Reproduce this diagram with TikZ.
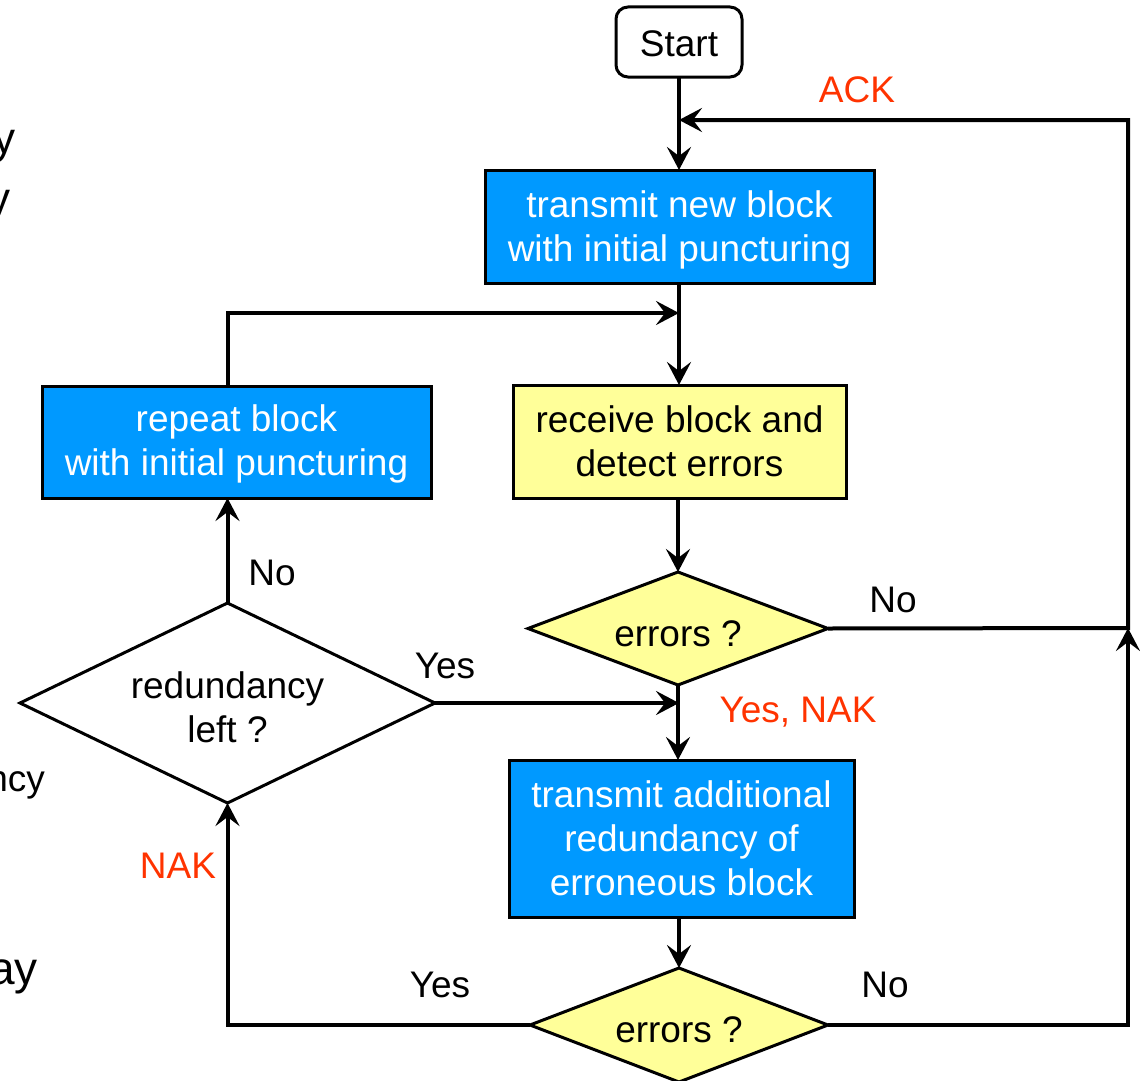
\documentclass[tikz,border=0pt]{standalone}
\usepackage{fontspec}
\setmainfont{Liberation Sans}
\usetikzlibrary{arrows.meta,shapes.geometric}
\definecolor{boxblue}{RGB}{0,153,255}
\definecolor{boxyellow}{RGB}{255,255,153}
\definecolor{sigred}{RGB}{255,51,0}
% lower a text inside its node without changing the node's size
\newcommand{\lowertext}[2]{\raisebox{-#1}[\height][\depth]{\begin{tabular}{@{}c@{}}#2\end{tabular}}}
\tikzset{
  every node/.style={font=\fontsize{37}{44}\selectfont, outer sep=0pt},
  flow/.style={line width=4pt, draw=black},
  arr/.style={flow, -{Stealth[length=23pt,width=24pt,inset=9pt]}},
  bluebox/.style={draw, line width=3pt, fill=boxblue, text=white, align=center, inner sep=0pt},
  yellowbox/.style={draw, line width=3pt, fill=boxyellow, align=center, inner sep=0pt},
  decision/.style={diamond, draw, line width=3pt, align=center, inner sep=0pt},
  startbox/.style={draw, line width=3pt, rounded corners=12pt, fill=white, inner sep=0pt},
  lbl/.style={inner sep=0pt},
  sig/.style={lbl, text=sigred},
  frag/.style={inner sep=0pt, anchor=base east}
}
\begin{document}
\begin{tikzpicture}[x=1pt,y=-1pt]
\useasboundingbox (0,0) rectangle (1140,1081);

% text continuing in from the left
\node[frag, font=\fontsize{44}{50}\selectfont] (f1) at (16,153) {y};
\node[frag, font=\fontsize{44}{50}\selectfont] (f2) at (10,213) {y};
\node[frag] (f3) at (45,791) {ncy};
\node[frag, font=\fontsize{46}{50}\selectfont] (f4) at (38,984) {ay};

% blocks
\node[startbox, minimum width=126pt, minimum height=70pt] (start) at (679,42) {\lowertext{6pt}{Start}};
\node[bluebox, minimum width=389pt, minimum height=113pt] (tnb) at (679.5,226.5) {\lowertext{4pt}{transmit new block\\with initial puncturing}};
\node[yellowbox, minimum width=333pt, minimum height=113pt] (recv) at (679.5,441.5) {receive block and\\detect errors};
\node[bluebox, minimum width=389pt, minimum height=112pt] (rep) at (236.5,442) {\lowertext{3pt}{repeat block\\with initial puncturing}};
\node[decision, aspect=2.65, fill=boxyellow, minimum width=300pt, minimum height=113pt] (e1) at (678,628.5) {\lowertext{9pt}{errors ?}};
\node[decision, aspect=2.07, fill=white, minimum width=415pt, minimum height=200pt] (red) at (227.5,703) {\lowertext{9pt}{redundancy\\left ?}};
\node[bluebox, minimum width=345pt, minimum height=157pt] (tar) at (681.5,838.5) {transmit additional\\redundancy of\\erroneous block};
\node[decision, aspect=2.61, fill=boxyellow, minimum width=298pt, minimum height=114pt] (e2) at (679,1025) {\lowertext{9pt}{errors ?}};

% junction points
\coordinate (ne) at (1128,120);
\coordinate (me) at (1128,628);
\coordinate (ackin) at (679,120);
\coordinate (repin) at (679,313);
\coordinate (nakin) at (679,703);

% connectors
\draw[arr] (start.south -| ackin) -- (tnb.north -| ackin);
\draw[arr] (e1.east) -- (me) -- (ne) -- (ackin);
\draw[arr] (tnb.south -| repin) -- (recv.north -| repin);
\draw[arr] (red.north |- rep.north) |- (repin);
\draw[arr] (recv.south -| e1.north) -- (e1.north);
\draw[arr] (e1.south) -- (tar.north -| e1.south);
\draw[arr] (red.east) -- (nakin);
\draw[arr] (red.north) -- (red.north |- rep.south);
\draw[arr] (tar.south -| e2.north) -- (e2.north);
\draw[arr] (e2.west) -| (red.south);
\draw[arr] (e2.east) -| (me);

% labels
\node[sig] (ack) at (857,90) {ACK};
\node[lbl] (no1) at (893,600) {No};
\node[lbl] (yes1) at (445,666) {Yes};
\node[lbl] (no2) at (272,573) {No};
\node[sig] (yesnak) at (798,712) {Yes, NAK};
\node[sig] (nak) at (178,866) {NAK};
\node[lbl] (yes2) at (440,985) {Yes};
\node[lbl] (no3) at (885,985) {No};
\end{tikzpicture}
\end{document}
